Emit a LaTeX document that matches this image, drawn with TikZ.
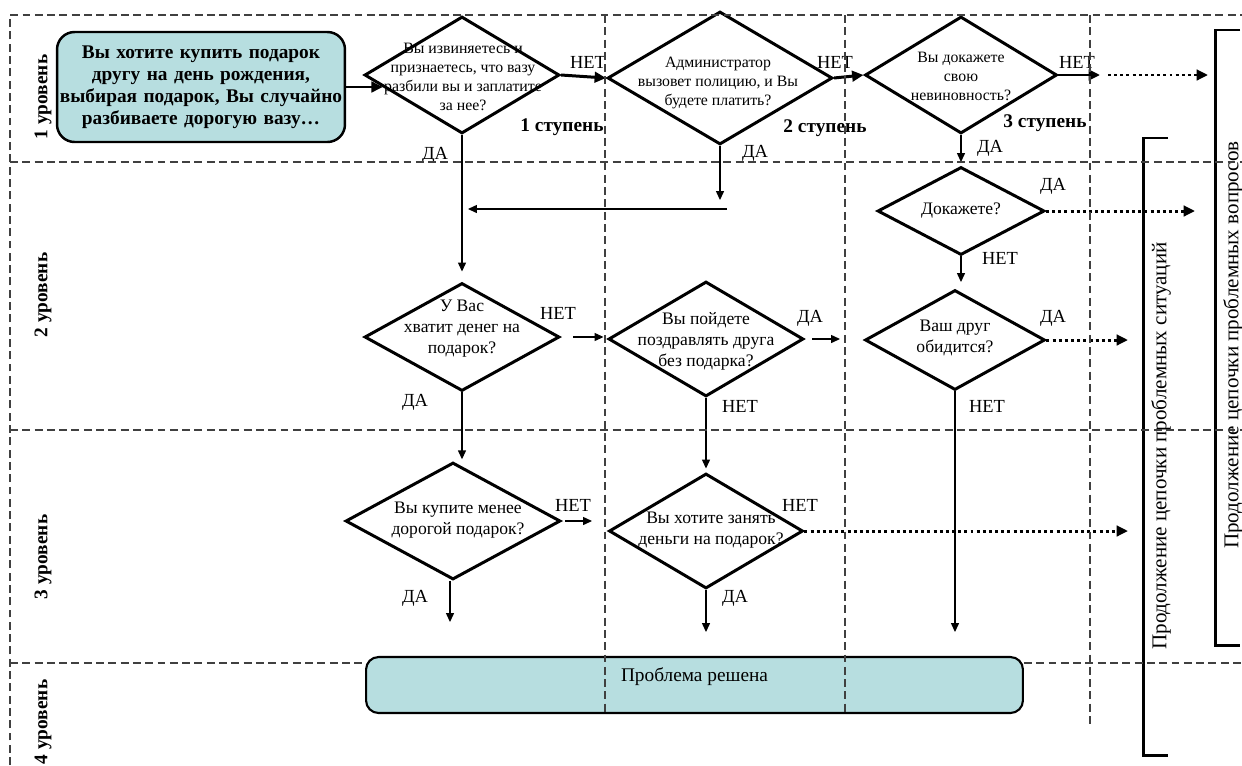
\documentclass[tikz,border=0pt]{standalone}
\usepackage{fontspec}
\setmainfont{Liberation Serif}
\usetikzlibrary{shapes.geometric,arrows.meta,calc}
\definecolor{vaseblue}{RGB}{183,222,224}
\tikzset{
  font={\fontsize{10pt}{12pt}\selectfont},
  decision/.style={diamond, draw, line width=1.7pt, inner sep=0pt},
  qtext/.style={align=center, inner sep=0pt},
  qsmall/.style={align=center, inner sep=0pt, font={\fontsize{9pt}{10.8pt}\selectfont}},
  answer/.style={inner sep=0pt, font={\fontsize{10.5pt}{12pt}\selectfont}},
  stage/.style={inner sep=0pt, font={\fontsize{11pt}{13pt}\selectfont\bfseries}},
  lanetitle/.style={rotate=90, inner sep=0pt, font={\fontsize{11pt}{13pt}\selectfont\bfseries}},
  chaintext/.style={rotate=90, inner sep=0pt, font={\fontsize{12pt}{14pt}\selectfont}},
  startbox/.style={draw, line width=1.4pt, rounded corners=0.35cm, fill=vaseblue,
    align=center, text width=5.7cm, minimum width=5.76cm, minimum height=2.2cm,
    inner sep=0pt, font={\fontsize{11pt}{12.6pt}\selectfont\bfseries}},
  endbox/.style={draw, line width=1.2pt, rounded corners=0.25cm, fill=vaseblue,
    minimum width=13.14cm, minimum height=1.12cm, inner sep=0pt},
  laneline/.style={dash pattern=on 4.5pt off 2.5pt, line width=0.6pt, black!75},
  arrowthin/.style={-{Triangle[length=5pt,width=4.5pt]}, line width=0.6pt},
  arrowthick/.style={-{Triangle[length=6.5pt,width=6pt]}, line width=1.7pt},
  arrowdot/.style={arrowthick, dash pattern=on 1.7pt off 1.8pt},
  bracket/.style={line width=1.7pt}
}
\begin{document}
\begin{tikzpicture}[x=0.02cm, y=-0.02cm]
\useasboundingbox (0,0) rectangle (1242,765);
% lanes
\node[lanetitle] (l1) at (43,97) {1 уровень};
\node[lanetitle] (l2) at (43,295) {2 уровень};
\node[lanetitle] (l3) at (43,557) {3 уровень};
\node[lanetitle] (l4) at (43,722) {4 уровень};
% level 1
\node[startbox] (s) at (201,87) {Вы хотите купить подарок\\другу на день рождения,\\выбирая подарок, Вы случайно\\разбиваете дорогую вазу\ldots};
\node[decision, minimum width=3.9cm, minimum height=2.34cm] (d1) at (462,75) {};
\node[qsmall] (t1) at (463,77) {Вы извиняетесь и\\признаетесь, что вазу\\разбили вы и заплатите\\за нее?};
\node[decision, minimum width=4.5cm, minimum height=2.66cm] (d2) at (720,78) {};
\node[qsmall] (t2) at (718,83) {Администратор\\вызовет полицию, и Вы\\будете платить?};
\node[decision, minimum width=3.84cm, minimum height=2.34cm] (d3) at (961,75) {};
\node[qsmall] (t3) at (961,76) {Вы докажете\\свою\\невиновность?};
\node[stage] (st1) at (562,127) {1 ступень};
\node[stage] (st2) at (825,128) {2 ступень};
\node[stage] (st3) at (1045,123) {3 ступень};
% level 2
\node[decision, minimum width=3.9cm, minimum height=2.16cm] (d4) at (462,337) {};
\node[qtext] (t4) at (462,329) {У Вас\\хватит денег на\\подарок?};
\node[decision, minimum width=3.9cm, minimum height=2.3cm] (d5) at (706,339) {};
\node[qtext] (t5) at (706,341) {Вы пойдете\\поздравлять друга\\без подарка?};
\node[decision, minimum width=3.34cm, minimum height=1.76cm] (d6) at (961,211) {};
\node[qtext] (t6) at (961,211) {Докажете?};
\node[decision, minimum width=3.6cm, minimum height=2cm] (d7) at (955,340) {};
\node[qtext] (t7) at (955,338) {Ваш друг\\обидится?};
% level 3
\node[decision, minimum width=4.3cm, minimum height=2.34cm] (d8) at (453,521) {};
\node[qtext] (t8) at (458,520) {Вы купите менее\\дорогой подарок?};
\node[decision, minimum width=3.88cm, minimum height=2.3cm] (d9) at (706,531) {};
\node[qtext] (t9) at (711,530) {Вы хотите занять\\деньги на подарок?};
% level 4
\node[endbox] (e) at (694.5,685) {};
\node[qtext, font={\fontsize{11pt}{13pt}\selectfont}] (et) at (694.5,677) {Проблема решена};
% free ends
\coordinate (in1) at ($(d1.west)!0.2!(d1.south)$);
\coordinate (n3a) at (1100,75);
\coordinate (n3b) at (1108,75);
\coordinate (n3c) at (1208,75);
\coordinate (k2) at (720,200);
\coordinate (k2a) at (727,209);
\coordinate (k2b) at (468,209);
\coordinate (y6) at (1195,211);
\coordinate (n6) at (961,282);
\coordinate (y5) at (840,339);
\coordinate (y7) at (1128,340);
\coordinate (n7) at (955,632);
\coordinate (n8) at (592,521);
\coordinate (n9) at (1128,531);
\coordinate (y8) at (450,622);
\coordinate (y9) at (706,632);
% connectors
\draw[arrowthick] (s.east |- in1) -- (in1);
\draw[arrowthick] (d1.east) -- (d2.west);
\draw[arrowthick] (d2.east) -- (d3.west);
\draw[arrowthick] (d3.east) -- (n3a);
\draw[arrowdot] (n3b) -- (n3c);
\draw[arrowthin, shorten >=5.7pt] (d1.south) -- (d4.north);
\draw[arrowthin] (d2.south) -- (k2);
\draw[arrowthin] (k2a) -- (k2b);
\draw[arrowthin, shorten >=2pt] (d3.south) -- (d6.north);
\draw[arrowdot] (d6.east) -- (y6);
\draw[arrowthin] (d6.south) -- (n6);
\draw[arrowthin, shorten <=7pt, shorten >=2pt] (d4.east) -- (d4.east -| d5.west);
\draw[arrowthin, shorten <=4pt] (d5.east) -- (y5);
\draw[arrowdot] (d7.east) -- (y7);
\draw[arrowthin] (d7.south) -- (n7);
\draw[arrowthin, shorten >=1pt] (d4.south) -- (d4.south |- d8.north);
\draw[arrowthin, shorten <=2pt] (d8.east) -- (n8);
\draw[arrowthin, shorten >=2pt] (d5.south) -- (d9.north);
\draw[arrowdot] (d9.east) -- (n9);
\draw[arrowthin] (d8.south -| y8) -- (y8);
\draw[arrowthin] (d9.south) -- (y9);
% answers
\node[answer] (a1) at (588,62) {НЕТ};
\node[answer] (a2) at (435,155) {ДА};
\node[answer] (a3) at (835,62) {НЕТ};
\node[answer] (a4) at (755,153) {ДА};
\node[answer] (a5) at (1077,62) {НЕТ};
\node[answer] (a6) at (990,148) {ДА};
\node[answer] (a7) at (1053,186) {ДА};
\node[answer] (a8) at (1000,258) {НЕТ};
\node[answer] (a9) at (558,313) {НЕТ};
\node[answer] (a10) at (810,318) {ДА};
\node[answer] (a11) at (1053,318) {ДА};
\node[answer] (a12) at (415,402) {ДА};
\node[answer] (a13) at (740,406) {НЕТ};
\node[answer] (a14) at (987,406) {НЕТ};
\node[answer] (a15) at (573,505) {НЕТ};
\node[answer] (a16) at (800,505) {НЕТ};
\node[answer] (a17) at (415,598) {ДА};
\node[answer] (a18) at (735,598) {ДА};
% continuation
\draw[bracket] (1240,30) -- (1215,30) -- (1215,645) -- (1240,645);
\draw[bracket] (1168,138) -- (1143,138) -- (1143,755) -- (1168,755);
\node[chaintext] (c1) at (1233,345) {Продолжение цепочки проблемных вопросов};
\node[chaintext] (c2) at (1161,446) {Продолжение цепочки проблемных ситуаций};
% lane lines
\draw[laneline] (10,765) -- (10,15) -- (1242,15);
\draw[laneline] (10,162) -- (1242,162);
\draw[laneline] (10,430) -- (1242,430);
\draw[laneline] (10,663) -- (e.west |- 0,663);
\draw[laneline] (e.east |- 0,663) -- (1242,663);
\draw[laneline] (605,15) -- (605,713);
\draw[laneline] (845,15) -- (845,715);
\draw[laneline] (1090,15) -- (1090,725);
\end{tikzpicture}
\end{document}
